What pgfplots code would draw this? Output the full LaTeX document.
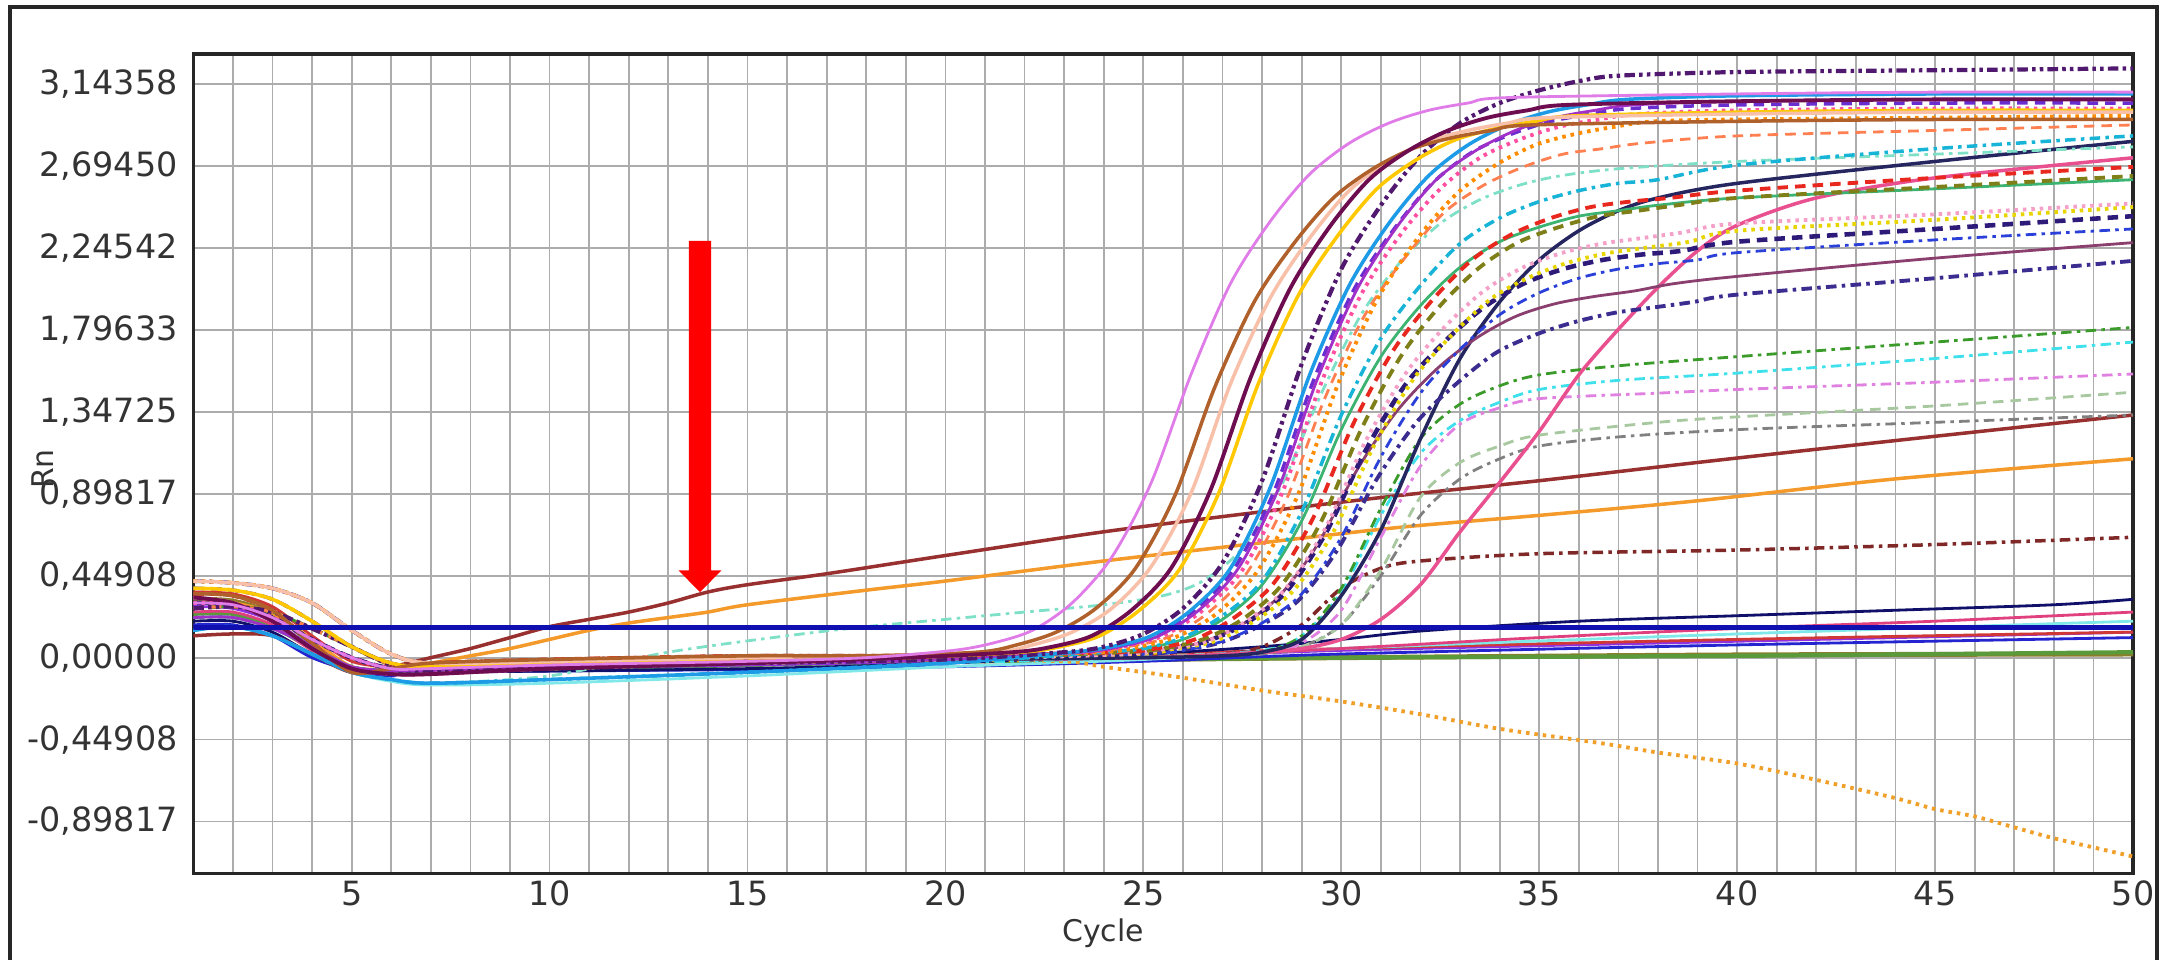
\documentclass[border=0pt]{standalone}
\usepackage{fontspec}
\setmainfont{DejaVu Sans}
\usepackage{pgfplots}
\pgfplotsset{compat=1.18}

% curve colours
\definecolor{orchidc}{HTML}{E07CE8}
\definecolor{sienc}{HTML}{B0602A}
\definecolor{peachc}{HTML}{F8C0A8}
\definecolor{maroonc}{HTML}{6E0C50}
\definecolor{goldc}{HTML}{FFC800}
\definecolor{dpurp}{HTML}{50186E}
\definecolor{skyc}{HTML}{1E9BE6}
\definecolor{dorch}{HTML}{A030C8}
\definecolor{bviol}{HTML}{6A2ED0}
\definecolor{hpink}{HTML}{FF4FA0}
\definecolor{orngc}{HTML}{FF8C00}
\definecolor{cyanc}{HTML}{18B4D8}
\definecolor{redc}{HTML}{E8281E}
\definecolor{olivc}{HTML}{7F7F1A}
\definecolor{seagc}{HTML}{3CB371}
\definecolor{lpink}{HTML}{F4A0C8}
\definecolor{yelc}{HTML}{E8D400}
\definecolor{indc}{HTML}{2E1A78}
\definecolor{pbrown}{HTML}{8B3F6E}
\definecolor{slatec}{HTML}{3B2C90}
\definecolor{coralc}{HTML}{FF7F50}
\definecolor{royalc}{HTML}{2A40D8}
\definecolor{aquac}{HTML}{7FE0C8}
\definecolor{navyl}{HTML}{252560}
\definecolor{pinkl}{HTML}{E85090}
\definecolor{grnc}{HTML}{3A9A2A}
\definecolor{lcyan}{HTML}{3EE0EC}
\definecolor{violc}{HTML}{E080E0}
\definecolor{lgray}{HTML}{A8C8A0}
\definecolor{grayc}{HTML}{808080}
\definecolor{dredc}{HTML}{802828}
\definecolor{brownc}{HTML}{983030}
\definecolor{orlin}{HTML}{F39A2A}
\definecolor{ordot}{HTML}{F0A028}
\definecolor{navyf}{HTML}{10106A}
\definecolor{pinkf}{HTML}{E0407E}
\definecolor{cyanf}{HTML}{80E8E8}
\definecolor{violf}{HTML}{9030E0}
\definecolor{bluef}{HTML}{2424D0}
\definecolor{olivf}{HTML}{8B7D2A}
\definecolor{grnf}{HTML}{5A9A3A}
\definecolor{redf}{HTML}{D03838}
\definecolor{thrc}{HTML}{1010B0}

\tikzset{
  ln/.style={line width=0.8pt, smooth},
  dsh/.style={dash pattern=on 3pt off 2pt},
  dot/.style={dash pattern=on 1pt off 1.4pt},
  dd/.style={dash pattern=on 3pt off 1.5pt on 1pt off 1.5pt},
  ddd/.style={dash pattern=on 3pt off 1.2pt on 1pt off 1.2pt on 1pt off 1.2pt},
}

\begin{document}
\begin{tikzpicture}[x=1cm,y=1cm]
\useasboundingbox (0,0) rectangle (21.65,9.60);
\begin{axis}[
  at={(1.933cm,0.867cm)}, anchor=south west,
  scale only axis, width=19.397cm, height=8.193cm,
  xmin=1, xmax=50, ymin=-1.182, ymax=3.309,
  xtick={5,10,...,50},
  xticklabels={5,10,15,20,25,30,35,40,45,50},
  minor xtick={1,...,50},
  ytick={-0.89817,-0.44908,0,0.44908,0.89817,1.34725,1.79633,2.24542,2.69450,3.14358},
  yticklabels={{-0,89817},{-0,44908},{0,00000},{0,44908},{0,89817},{1,34725},{1,79633},{2,24542},{2,69450},{3,14358}},
  grid=both,
  major grid style={gray!65, line width=0.5pt},
  minor grid style={gray!65, line width=0.5pt},
  tick style={draw=none},
  axis line style={line width=0.9pt, black!85},
  tick label style={font=\fontsize{9.5}{11}\selectfont, text=black!80},
  xticklabel style={inner sep=0pt, yshift=-0.07cm},
  yticklabel style={inner sep=0pt, xshift=-0.15cm},
  every axis plot/.append style={no markers},
]

% non-amplifying wells
\addplot[ln, olivf, line width=1.4pt] coordinates {(1,0.32)(2,0.31)(3,0.24)(4,0.08)(5,-0.06)(6,-0.07)(7,-0.06)(15,-0.03)(20,-0.02)(25,-0.01)(30,0.0)(40,0.015)(50,0.02)};
\addplot[ln, grnf, line width=1.2pt] coordinates {(1,0.24)(2,0.24)(3,0.17)(4,0.05)(5,-0.07)(6,-0.09)(7,-0.08)(15,-0.04)(20,-0.02)(25,-0.01)(30,0.0)(40,0.01)(50,0.03)};
\addplot[ln, bluef] coordinates {(1,0.18)(2,0.18)(3,0.12)(4,0.0)(5,-0.07)(6,-0.10)(7,-0.08)(15,-0.065)(20,-0.05)(25,-0.02)(30,0.02)(40,0.07)(50,0.11)};
\addplot[ln, violf] coordinates {(1,0.28)(2,0.27)(3,0.20)(4,0.06)(5,-0.06)(6,-0.08)(7,-0.07)(15,-0.04)(20,-0.02)(25,0.0)(30,0.04)(40,0.09)(50,0.14)};
\addplot[ln, redf] coordinates {(1,0.36)(2,0.35)(3,0.28)(4,0.12)(5,-0.02)(6,-0.05)(7,-0.04)(15,0.0)(20,0.01)(25,0.02)(30,0.05)(40,0.10)(50,0.14)};
\addplot[ln, cyanf] coordinates {(1,0.15)(2,0.17)(3,0.12)(4,0.02)(5,-0.08)(6,-0.13)(7,-0.15)(10,-0.14)(15,-0.10)(20,-0.05)(25,-0.01)(30,0.05)(40,0.13)(50,0.20)};
\addplot[ln, pinkf] coordinates {(1,0.25)(2,0.25)(3,0.18)(4,0.04)(5,-0.06)(6,-0.08)(7,-0.07)(15,-0.03)(20,-0.01)(25,0.0)(30,0.05)(35,0.11)(40,0.16)(45,0.20)(50,0.25)};
\addplot[ln, navyf] coordinates {(1,0.20)(2,0.20)(3,0.14)(4,0.02)(5,-0.05)(6,-0.08)(7,-0.08)(15,-0.06)(20,-0.03)(25,0.02)(28,0.06)(30,0.10)(32,0.146)(36,0.20)(40,0.23)(44,0.26)(48,0.29)(50,0.32)};
\addplot[ln, ordot, dot, line width=1.1pt] coordinates {(1,0.42)(2,0.41)(3,0.38)(4,0.30)(5,0.15)(6,0.02)(7,-0.03)(10,-0.02)(15,-0.01)(20,-0.01)(23,-0.02)(24,-0.05)(26,-0.11)(28,-0.18)(30,-0.24)(32,-0.31)(34,-0.39)(36.6,-0.47)(38,-0.52)(40,-0.58)(42,-0.67)(44,-0.77)(45,-0.83)(46,-0.87)(47,-0.93)(48,-0.99)(49,-1.04)(50,-1.09)};

% slowly drifting wells
\addplot[ln, brownc, line width=1pt] coordinates {(1,0.12)(2,0.13)(3,0.12)(4,0.02)(5,-0.08)(6,-0.05)(7,0.0)(8,0.05)(9,0.11)(10,0.17)(11,0.21)(12,0.25)(13,0.30)(14,0.36)(15,0.40)(17,0.46)(20,0.56)(24,0.69)(28,0.80)(31.5,0.89)(35,0.97)(39,1.07)(44,1.19)(50,1.33)};
\addplot[ln, orlin, line width=1pt] coordinates {(1,0.30)(2,0.30)(3,0.24)(4,0.10)(5,-0.05)(6,-0.06)(7,-0.03)(8,0.01)(9,0.05)(10,0.10)(11,0.15)(12,0.19)(13,0.22)(14,0.25)(15,0.29)(18,0.37)(20,0.42)(24,0.53)(28,0.63)(31.5,0.715)(35,0.78)(39,0.86)(44,0.98)(50,1.09)};
\addplot[ln, dredc, dd, line width=1pt] coordinates {(1,0.35)(2,0.34)(3,0.26)(4,0.08)(5,-0.08)(6,-0.06)(7,-0.03)(10,-0.01)(15,0.01)(20,0.01)(25,0.01)(27,0.02)(28,0.06)(29,0.18)(30,0.38)(31,0.49)(32,0.53)(35,0.57)(40,0.59)(45,0.62)(50,0.66)};

% low plateau group
\addplot[ln, grayc, dd] coordinates {(1,0.33)(2,0.30)(3,0.20)(4,0.05)(5,-0.06)(6,-0.09)(7,-0.09)(10,-0.06)(15,-0.03)(20,-0.01)(25,0.0)(28,0.02)(29,0.06)(30,0.18)(31,0.45)(32,0.78)(33,0.98)(34,1.09)(35,1.16)(37,1.21)(40,1.25)(45,1.29)(50,1.33)};
\addplot[ln, lgray, dsh] coordinates {(1,0.38)(2,0.37)(3,0.32)(4,0.20)(5,0.06)(6,-0.03)(7,-0.05)(10,-0.03)(15,-0.02)(20,0.0)(25,0.01)(28,0.03)(29,0.06)(30,0.18)(31,0.48)(32,0.88)(33,1.07)(34,1.16)(35,1.22)(38,1.29)(40,1.32)(45,1.38)(50,1.455)};
\addplot[ln, violc, dd] coordinates {(1,0.22)(2,0.22)(3,0.16)(4,0.06)(5,-0.05)(6,-0.07)(7,-0.07)(10,-0.05)(15,-0.03)(20,-0.01)(25,0.0)(28,0.03)(29,0.08)(30,0.26)(31,0.66)(32,1.05)(33,1.28)(34,1.37)(35,1.42)(38,1.45)(40,1.47)(45,1.51)(50,1.555)};
\addplot[ln, lcyan, dd] coordinates {(1,0.15)(2,0.17)(3,0.12)(4,0.02)(5,-0.08)(6,-0.12)(7,-0.14)(10,-0.12)(15,-0.08)(20,-0.03)(25,0.0)(28,0.04)(29,0.12)(30,0.36)(31,0.78)(32,1.12)(33,1.30)(34,1.40)(35,1.47)(37,1.52)(40,1.56)(45,1.64)(50,1.73)};
\addplot[ln, grnc, dd] coordinates {(1,0.27)(2,0.28)(3,0.25)(4,0.16)(5,0.06)(6,-0.04)(7,-0.07)(10,-0.06)(15,-0.03)(20,-0.01)(25,0.0)(27,0.01)(28,0.03)(29,0.12)(30,0.38)(31,0.82)(32,1.20)(33,1.39)(34,1.49)(35,1.55)(37,1.60)(40,1.65)(45,1.73)(50,1.81)};

% late risers
\addplot[ln, pinkl, line width=1pt] coordinates {(1,0.33)(2,0.30)(3,0.20)(4,0.05)(5,-0.06)(6,-0.09)(7,-0.09)(10,-0.06)(15,-0.03)(20,-0.01)(25,0.0)(28,0.03)(29,0.05)(30,0.10)(31,0.21)(32,0.40)(33,0.69)(34,0.96)(35,1.24)(36,1.55)(37,1.80)(38,2.03)(39,2.23)(40,2.37)(42,2.52)(45,2.63)(50,2.74)};
\addplot[ln, navyl, line width=1pt] coordinates {(1,0.30)(2,0.29)(3,0.22)(4,0.10)(5,0.0)(6,-0.06)(7,-0.06)(10,-0.04)(15,-0.02)(20,-0.01)(25,0.0)(27,0.01)(28,0.03)(29,0.10)(30,0.34)(31,0.70)(32,1.20)(33,1.64)(34,1.95)(35,2.18)(36,2.34)(37,2.45)(38,2.52)(40,2.60)(45,2.72)(50,2.83)};

% main cluster
\addplot[ln, slatec, dd, line width=1.1pt] coordinates {(1,0.42)(2,0.41)(3,0.38)(4,0.30)(5,0.15)(6,0.02)(7,-0.03)(10,-0.02)(15,0.0)(20,0.01)(24.9,0.02)(25.9,0.04)(26.9,0.08)(27.9,0.17)(28.9,0.31)(29.9,0.59)(30.9,0.98)(31.9,1.29)(32.9,1.50)(33.9,1.67)(34.9,1.77)(35.9,1.84)(36.9,1.89)(37.9,1.92)(38.9,1.95)(40,1.99)(45,2.08)(50,2.175)};
\addplot[ln, pbrown] coordinates {(1,0.35)(2,0.34)(3,0.26)(4,0.08)(5,-0.08)(6,-0.06)(7,-0.03)(10,-0.01)(15,0.01)(20,0.01)(24.4,0.02)(25.4,0.04)(26.4,0.08)(27.4,0.17)(28.4,0.33)(29.4,0.62)(30.4,1.03)(31.4,1.35)(32.4,1.58)(33.4,1.75)(34.4,1.87)(35.4,1.94)(36.4,1.98)(37.4,2.01)(38.4,2.05)(40,2.09)(45,2.19)(50,2.275)};
\addplot[ln, royalc, dd] coordinates {(1,0.22)(2,0.22)(3,0.16)(4,0.06)(5,-0.05)(6,-0.07)(7,-0.07)(10,-0.05)(15,-0.03)(20,-0.01)(25,0.02)(26,0.04)(27,0.09)(28,0.19)(29,0.35)(30,0.66)(31,1.10)(32,1.45)(33,1.69)(34,1.88)(35,2.00)(36,2.08)(37,2.13)(38,2.16)(39,2.18)(40,2.22)(45,2.29)(50,2.35)};
\addplot[ln, indc, dsh, line width=1.3pt] coordinates {(1,0.30)(2,0.29)(3,0.22)(4,0.10)(5,0.0)(6,-0.06)(7,-0.06)(10,-0.04)(15,-0.02)(20,0.0)(24.6,0.02)(25.6,0.05)(26.6,0.09)(27.6,0.19)(28.6,0.36)(29.6,0.68)(30.6,1.13)(31.6,1.49)(32.6,1.73)(33.6,1.92)(34.6,2.05)(35.6,2.13)(36.6,2.18)(37.6,2.21)(38.6,2.23)(40,2.28)(45,2.35)(50,2.42)};
\addplot[ln, yelc, dot, line width=1.1pt] coordinates {(1,0.38)(2,0.37)(3,0.32)(4,0.20)(5,0.06)(6,-0.03)(7,-0.05)(10,-0.03)(15,-0.02)(20,0.0)(24.8,0.02)(25.8,0.05)(26.8,0.09)(27.8,0.20)(28.8,0.37)(29.8,0.69)(30.8,1.15)(31.8,1.52)(32.8,1.77)(33.8,1.97)(34.8,2.09)(35.8,2.17)(36.8,2.22)(37.8,2.25)(38.8,2.28)(40,2.34)(45,2.40)(50,2.47)};
\addplot[ln, lpink, dot, line width=1.1pt] coordinates {(1,0.33)(2,0.30)(3,0.20)(4,0.05)(5,-0.06)(6,-0.09)(7,-0.09)(10,-0.06)(15,-0.03)(20,-0.01)(24.6,0.02)(25.6,0.05)(26.6,0.09)(27.6,0.20)(28.6,0.38)(29.6,0.71)(30.6,1.18)(31.6,1.55)(32.6,1.81)(33.6,2.01)(34.6,2.14)(35.6,2.22)(36.6,2.27)(37.6,2.30)(38.6,2.33)(40,2.38)(45,2.43)(50,2.49)};
\addplot[ln, seagc] coordinates {(1,0.22)(2,0.22)(3,0.16)(4,0.06)(5,-0.05)(6,-0.07)(7,-0.07)(10,-0.05)(15,-0.03)(20,-0.01)(24,0.03)(25,0.05)(26,0.10)(27,0.21)(28,0.40)(29,0.75)(30,1.25)(31,1.65)(32,1.93)(33,2.14)(34,2.28)(35,2.36)(36,2.42)(37,2.45)(38,2.48)(40,2.52)(45,2.57)(50,2.62)};
\addplot[ln, olivc, dsh, line width=1.1pt] coordinates {(1,0.27)(2,0.28)(3,0.25)(4,0.16)(5,0.06)(6,-0.04)(7,-0.07)(10,-0.06)(15,-0.03)(20,-0.01)(24.5,0.03)(25.5,0.05)(26.5,0.10)(27.5,0.21)(28.5,0.40)(29.5,0.75)(30.5,1.25)(31.5,1.65)(32.5,1.93)(33.5,2.14)(34.5,2.28)(35.5,2.36)(36.5,2.42)(37.5,2.45)(38.5,2.48)(40,2.52)(45,2.58)(50,2.64)};
\addplot[ln, redc, dsh, line width=1.1pt] coordinates {(1,0.35)(2,0.34)(3,0.26)(4,0.08)(5,-0.08)(6,-0.06)(7,-0.03)(10,-0.01)(15,0.01)(20,0.01)(24.3,0.03)(25.3,0.05)(26.3,0.10)(27.3,0.22)(28.3,0.41)(29.3,0.77)(30.3,1.28)(31.3,1.68)(32.3,1.96)(33.3,2.18)(34.3,2.32)(35.3,2.41)(36.3,2.47)(37.3,2.50)(38.3,2.52)(40,2.56)(45,2.63)(50,2.69)};
\addplot[ln, aquac, dd] coordinates {(1,0.15)(2,0.17)(3,0.12)(4,0.02)(5,-0.08)(6,-0.12)(7,-0.14)(10,-0.10)(13,0.03)(16,0.12)(18,0.17)(20,0.21)(22,0.25)(24,0.29)(25.5,0.34)(26.5,0.42)(27.5,0.60)(28.5,0.95)(29.5,1.45)(30.5,1.88)(31.5,2.17)(32.5,2.38)(33.5,2.51)(34.5,2.59)(35.5,2.64)(37,2.68)(40,2.72)(45,2.76)(50,2.80)};
\addplot[ln, cyanc, dd, line width=1pt] coordinates {(1,0.15)(2,0.17)(3,0.12)(4,0.02)(5,-0.08)(6,-0.12)(7,-0.14)(10,-0.12)(15,-0.08)(20,-0.03)(24,0.03)(25,0.05)(26,0.11)(27,0.23)(28,0.42)(29,0.80)(30,1.33)(31,1.75)(32,2.04)(33,2.27)(34,2.41)(35,2.50)(36,2.56)(37,2.60)(38,2.62)(40,2.70)(45,2.79)(50,2.86)};
\addplot[ln, coralc, dsh] coordinates {(1,0.27)(2,0.28)(3,0.25)(4,0.16)(5,0.06)(6,-0.04)(7,-0.07)(10,-0.06)(15,-0.03)(20,-0.01)(23.6,0.03)(24.6,0.06)(25.6,0.11)(26.6,0.24)(27.6,0.46)(28.6,0.86)(29.6,1.43)(30.6,1.88)(31.6,2.19)(32.6,2.44)(33.6,2.59)(34.6,2.69)(35.6,2.76)(36.6,2.79)(37.6,2.82)(40,2.86)(45,2.89)(50,2.92)};
\addplot[ln, orngc, dot, line width=1.1pt] coordinates {(1,0.42)(2,0.41)(3,0.38)(4,0.30)(5,0.15)(6,0.02)(7,-0.03)(10,-0.02)(15,0.0)(20,0.01)(23.9,0.03)(24.9,0.06)(25.9,0.12)(26.9,0.25)(27.9,0.48)(28.9,0.89)(29.9,1.49)(30.9,1.96)(31.9,2.29)(32.9,2.54)(33.9,2.70)(34.9,2.81)(35.9,2.87)(36.9,2.91)(37.9,2.94)(40,2.95)(45,2.96)(50,2.97)};
\addplot[ln, hpink, dot, line width=1.1pt] coordinates {(1,0.30)(2,0.29)(3,0.22)(4,0.10)(5,0.0)(6,-0.06)(7,-0.06)(10,-0.04)(15,-0.02)(20,0.0)(23.5,0.03)(24.5,0.06)(25.5,0.12)(26.5,0.26)(27.5,0.48)(28.5,0.90)(29.5,1.51)(30.5,1.99)(31.5,2.32)(32.5,2.57)(33.5,2.74)(34.5,2.84)(35.5,2.91)(36.5,2.95)(37.5,2.98)(40,3.00)(45,3.01)(50,3.01)};
\addplot[ln, bviol, dsh, line width=1pt] coordinates {(1,0.38)(2,0.37)(3,0.32)(4,0.20)(5,0.06)(6,-0.03)(7,-0.05)(10,-0.03)(15,-0.02)(20,0.0)(23.3,0.03)(24.3,0.06)(25.3,0.12)(26.3,0.26)(27.3,0.49)(28.3,0.91)(29.3,1.52)(30.3,2.01)(31.3,2.34)(32.3,2.60)(33.3,2.77)(34.3,2.87)(35.3,2.94)(36.3,2.98)(37.3,3.01)(40,3.03)(45,3.04)(50,3.04)};
\addplot[ln, dorch] coordinates {(1,0.22)(2,0.22)(3,0.16)(4,0.06)(5,-0.05)(6,-0.07)(7,-0.07)(10,-0.05)(15,-0.03)(20,-0.01)(23.4,0.03)(24.4,0.06)(25.4,0.12)(26.4,0.26)(27.4,0.49)(28.4,0.92)(29.4,1.53)(30.4,2.02)(31.4,2.36)(32.4,2.62)(33.4,2.78)(34.4,2.89)(35.4,2.96)(36.4,3.00)(37.4,3.03)(40,3.05)(45,3.06)(50,3.06)};
\addplot[ln, skyc, line width=1pt] coordinates {(1,0.15)(2,0.17)(3,0.12)(4,0.02)(5,-0.08)(6,-0.12)(7,-0.14)(10,-0.12)(15,-0.08)(20,-0.03)(23.2,0.03)(24.2,0.06)(25.2,0.12)(26.2,0.26)(27.2,0.49)(28.2,0.93)(29.2,1.55)(30.2,2.04)(31.2,2.38)(32.2,2.64)(33.2,2.81)(34.2,2.92)(35.2,2.99)(36.2,3.03)(37.2,3.06)(40,3.08)(45,3.09)(50,3.09)};
\addplot[ln, dpurp, ddd, line width=1.2pt] coordinates {(1,0.27)(2,0.28)(3,0.25)(4,0.16)(5,0.06)(6,-0.04)(7,-0.07)(10,-0.06)(15,-0.03)(20,-0.01)(23,0.03)(24,0.06)(25,0.13)(26,0.27)(27,0.52)(28,0.97)(29,1.61)(30,2.13)(31,2.48)(32,2.75)(33,2.93)(34,3.04)(35,3.11)(36,3.16)(37,3.19)(40,3.21)(45,3.22)(50,3.23)};

% early risers
\addplot[ln, goldc, line width=1pt] coordinates {(1,0.38)(2,0.37)(3,0.32)(4,0.20)(5,0.06)(6,-0.03)(7,-0.05)(10,-0.03)(15,-0.02)(19,0.0)(21.9,0.03)(22.9,0.06)(23.9,0.12)(24.9,0.26)(25.9,0.48)(26.9,0.90)(27.9,1.50)(28.9,1.98)(29.9,2.31)(30.9,2.57)(31.9,2.73)(32.9,2.84)(33.9,2.90)(34.9,2.94)(35.9,2.97)(40,2.99)(45,3.00)(50,3.00)};
\addplot[ln, peachc, line width=1pt] coordinates {(1,0.42)(2,0.41)(3,0.38)(4,0.30)(5,0.15)(6,0.02)(7,-0.03)(10,-0.02)(15,0.0)(18,0.01)(21.2,0.03)(22.2,0.07)(23.2,0.14)(24.2,0.27)(25.2,0.50)(26.2,0.90)(27.2,1.50)(28.2,1.97)(29.2,2.30)(30.2,2.56)(31.2,2.72)(32.2,2.83)(33.2,2.89)(34.2,2.93)(35.2,2.96)(40,2.98)(45,2.99)(50,2.99)};
\addplot[ln, sienc, line width=1pt] coordinates {(1,0.35)(2,0.34)(3,0.26)(4,0.08)(5,-0.08)(6,-0.06)(7,-0.03)(10,-0.01)(15,0.01)(18,0.01)(20.8,0.03)(21.8,0.07)(22.8,0.14)(23.8,0.27)(24.8,0.49)(25.8,0.89)(26.8,1.48)(27.8,1.95)(28.8,2.27)(29.8,2.52)(30.8,2.68)(31.8,2.79)(32.8,2.85)(33.8,2.89)(34.8,2.92)(40,2.94)(45,2.95)(50,2.95)};
\addplot[ln, maroonc, line width=1.1pt] coordinates {(1,0.33)(2,0.30)(3,0.20)(4,0.05)(5,-0.06)(6,-0.09)(7,-0.09)(10,-0.06)(15,-0.03)(19,0.0)(21.7,0.03)(22.7,0.06)(23.7,0.12)(24.7,0.26)(25.7,0.49)(26.7,0.92)(27.7,1.53)(28.7,2.02)(29.7,2.36)(30.7,2.62)(31.7,2.78)(32.7,2.89)(33.7,2.96)(34.7,3.00)(35.7,3.03)(40,3.05)(45,3.06)(50,3.06)};
\addplot[ln, orchidc] coordinates {(1,0.30)(2,0.29)(3,0.22)(4,0.10)(5,0.0)(6,-0.06)(7,-0.06)(10,-0.04)(15,-0.02)(18,0.0)(20.2,0.04)(21.2,0.08)(22.2,0.15)(23.2,0.30)(24.2,0.55)(25.2,0.96)(26.2,1.55)(27.2,2.05)(28.2,2.39)(29.2,2.65)(30.2,2.82)(31.2,2.93)(32.2,3.00)(33.2,3.04)(34.2,3.07)(40,3.09)(45,3.10)(50,3.10)};

% threshold line
\addplot[thrc, line width=1.3pt] coordinates {(1,0.166)(50,0.166)};

% red arrow
\fill[red] (axis cs:13.52,2.285) -- (axis cs:13.52,0.478) -- (axis cs:13.26,0.478)
  -- (axis cs:13.8,0.359) -- (axis cs:14.34,0.478) -- (axis cs:14.08,0.478)
  -- (axis cs:14.08,2.285) -- cycle;
\end{axis}

\draw[line width=0.9pt, black!85] (0.10,0) -- (0.10,9.53) -- (21.57,9.53) -- (21.57,0);
\node[rotate=90, font=\fontsize{8.5}{10}\selectfont, text=black!80] at (0.43,4.91) {Rn};
\node[font=\fontsize{8.5}{10}\selectfont, text=black!80] at (11.03,0.27) {Cycle};
\end{tikzpicture}
\end{document}
